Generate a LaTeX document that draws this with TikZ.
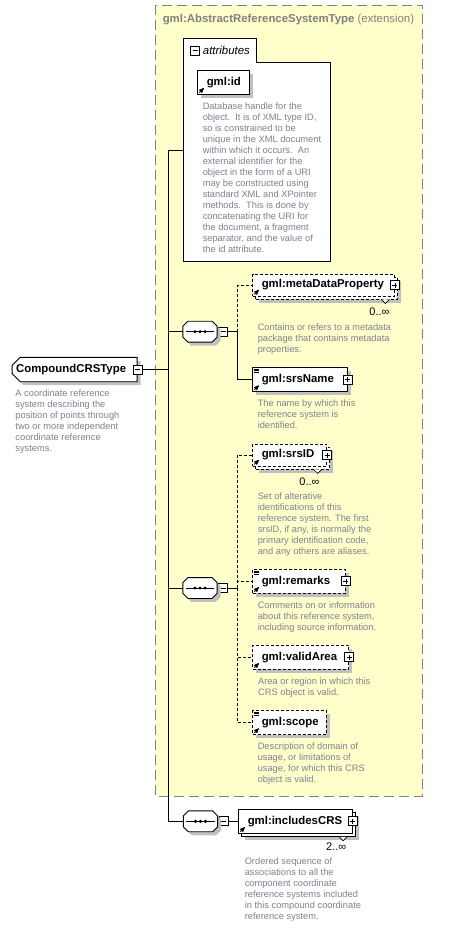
\documentclass[tikz,border=0pt]{standalone}
\usepackage{fontspec}
\setmainfont{Liberation Sans}
\usepackage{tikz}
\usetikzlibrary{arrows, positioning, shadows, shapes.misc}
\definecolor{extfill}{HTML}{FFFFCC}
\definecolor{extline}{HTML}{808080}
\definecolor{shadowgray}{HTML}{C0C0C0}
\definecolor{descgray}{HTML}{808090}
\newcommand{\labfont}{\fontsize{11.4}{13}\selectfont\bfseries}
\newcommand{\descfont}{\fontsize{9.3}{11}\selectfont}
\newcommand{\occfont}{\fontsize{11}{12}\selectfont}

\begin{document}
\begin{tikzpicture}[x=1pt, y=-1pt, line width=0.9pt]
  \tikzstyle{shadowed} = [drop shadow={shadow xshift=3.5pt,
    shadow yshift=-3.5pt, fill=shadowgray, opacity=1}]
  \tikzstyle{element} = [draw, fill=white, font=\labfont, anchor=west,
    inner xsep=9pt, inner ysep=0pt, minimum height=24pt, align=left]
  \tikzstyle{elem} = [element, shadowed]
  \tikzstyle{optional} = [dash pattern=on 3pt off 2pt]
  \tikzstyle{compositor} = [minimum width=33.4pt, minimum height=20pt,
    inner sep=0pt]
  \tikzstyle{signbox} = [draw, fill=white, minimum size=9pt, inner sep=0pt,
    line width=0.8pt]
  \tikzstyle{minusbox} = [signbox, path picture={
      \draw ([xshift=2pt]path picture bounding box.west) --
        ([xshift=-2pt]path picture bounding box.east);}]
  \tikzstyle{plusbox} = [signbox, path picture={
      \draw ([xshift=2pt]path picture bounding box.west) --
        ([xshift=-2pt]path picture bounding box.east);
      \draw ([yshift=2pt]path picture bounding box.south) --
        ([yshift=-2pt]path picture bounding box.north);}]
  \tikzstyle{desc} = [anchor=base west, inner sep=0pt, align=left,
    text=descgray, font=\descfont]
  \tikzstyle{occurs} = [anchor=base east, inner sep=0pt, font=\occfont]
  \tikzstyle{refarrow} = [->, >=stealth', line width=0.8pt]
  \tikzstyle{notch} = [fill=white, line width=0.7pt]

  \useasboundingbox (0,0) rectangle (465,928);

  % extension of gml:AbstractReferenceSystemType
  \draw[fill=extfill, draw=extline, dash pattern=on 10pt off 5pt]
    (155.3,5) rectangle (422.7,796);
  \node[anchor=base west, inner sep=0pt, text=extline] (exttitle)
    at (162.3,23) {\labfont gml:AbstractReferenceSystemType
    \mdseries(extension)};

  % attributes
  \draw[fill=white] (183.3,38) -- (256.7,38) -- (256.7,62) -- (330,62)
    -- (330,261.7) -- (183.3,261.7) -- cycle;
  \node[minusbox] (attr minus) at (195.3,50.8) {};
  \node[anchor=base west, inner sep=0pt, font=\labfont\mdseries\itshape]
    (attr title) at (202.5,54.8) {attributes};
  \coordinate (attrin) at (183.3,150.7);
  \node[elem, text width=33.4pt] (gid) at (197.3,82.2) {gml:id};
  \node[desc] (gid desc) at (202.3,252.7) {Database handle for the\\
    object.\ \ It is of XML type ID,\\so is constrained to be\\
    unique in the XML document\\within which it occurs.\ \ An\\
    external identifier for the\\object in the form of a URI\\
    may be constructed using\\standard XML and XPointer\\
    methods.\ \ This is done by\\concatenating the URI for\\
    the document, a fragment\\separator, and the value of\\
    the id attribute.};

  % root
  \node[draw, fill=white, shadowed, chamfered rectangle,
    chamfered rectangle corners={north west,south west},
    chamfered rectangle sep=4pt, minimum width=125pt, minimum height=24.4pt,
    inner sep=0pt, text width=117pt, align=left, font=\labfont, anchor=west]
    (root) at (11.7,369.5) {CompoundCRSType};
  \node[minusbox] (root minus) at (root.east) {};
  \node[desc] (root desc) at (15,451.3) {A coordinate reference\\
    system describing the\\position of points through\\
    two or more independent\\coordinate reference\\systems.};

  % first sequence
  \node[compositor] (seqa) at (200,331.7) {};
  \node[minusbox, right=1pt of seqa] (seqa minus) {};
  \coordinate (busa) at (237.3,331.7);
  \node[elem, optional, text width=123.7pt, minimum height=22pt]
    (mdp back) at (255.3,288) {\phantom{gml:metaDataProperty}};
  \node[element, optional, text width=123.7pt, minimum height=22pt]
    (mdp) at (252.3,285) {gml:metaDataProperty};
  \draw[notch] ([xshift=-16.5pt]mdp back.south east) -- ++(4,4) -- ++(4,-4);
  \node[occurs] (mdp occurs) at (390,315.5) {0..∞};
  \node[desc] (mdp desc) at (257.3,352.7) {Contains or refers to a metadata\\
    package that contains metadata\\properties.};
  \node[elem, text width=76.4pt] (srsname) at (252.3,379.5) {gml:srsName};
  \node[desc] (srsname desc) at (257.3,428.3) {The name by which this\\
    reference system is\\identified.};

  % second sequence
  \node[compositor] (seqb) at (200,588) {};
  \node[minusbox, right=1pt of seqb] (seqb minus) {};
  \coordinate (busb) at (237.3,588);
  \node[elem, optional, text width=56pt, minimum height=22pt]
    (srsid back) at (255.3,458) {\phantom{gml:srsID}};
  \node[element, optional, text width=56pt, minimum height=22pt]
    (srsid) at (252.3,455) {gml:srsID};
  \draw[notch] ([xshift=-16.5pt]srsid back.south east) -- ++(4,4) -- ++(4,-4);
  \node[occurs] (srsid occurs) at (320,485) {0..∞};
  \node[desc] (srsid desc) at (257.3,554.7) {Set of alterative\\
    identifications of this\\reference system. The first\\
    srsID, if any, is normally the\\primary identification code,\\
    and any others are aliases.};
  \node[elem, optional, text width=74.7pt] (remarks) at (252.3,581.3)
    {gml:remarks};
  \node[desc] (remarks desc) at (257.3,630.7) {Comments on or information\\
    about this reference system,\\including source information.};
  \node[elem, optional, text width=78pt] (validarea) at (252.3,657.3)
    {gml:validArea};
  \node[desc] (validarea desc) at (257.7,695.7) {Area or region in which this\\
    CRS object is valid.};
  \node[elem, optional, text width=55.4pt] (scope) at (252.3,722.5)
    {gml:scope};
  \node[desc] (scope desc) at (257.3,782.7) {Description of domain of\\
    usage, or limitations of\\usage, for which this CRS\\object is valid.};

  % third sequence
  \node[compositor] (seqc) at (200.5,821.3) {};
  \node[minusbox, right=1pt of seqc] (seqc minus) {};
  \node[elem, text width=95.4pt] (incl back) at (241.3,824.3)
    {\phantom{gml:includesCRS}};
  \node[element, text width=95.4pt] (incl) at (238.3,821.3)
    {gml:includesCRS};
  \draw[notch] ([xshift=-16.5pt]incl back.south east) -- ++(4,4) -- ++(4,-4);
  \node[occurs] (incl occurs) at (346.7,850.5) {2..∞};
  \node[desc] (incl desc) at (244.3,919.7) {Ordered sequence of\\
    associations to all the\\component coordinate\\
    reference systems included\\in this compound coordinate\\
    reference system.};

  % sequence compositors
  \foreach \n in {seqa, seqb, seqc} {
    \draw[fill=white, shadowed] ([xshift=5pt]\n.north west)
      -- ([xshift=-5pt]\n.north east) -- ([yshift=-5pt]\n.north east)
      -- ([yshift=5pt]\n.south east) -- ([xshift=-5pt]\n.south east)
      -- ([xshift=5pt]\n.south west) -- ([yshift=5pt]\n.south west)
      -- ([yshift=-5pt]\n.north west) -- cycle;
    \draw ([xshift=3pt]\n.west) -- ([xshift=-3pt]\n.east);
    \foreach \d in {-5,0,5}
      \fill ([xshift=\d pt]\n.center) circle (1.7pt);
  }

  % icons
  \foreach \n in {mdp, srsname, srsid, remarks, validarea, incl}
    \node[plusbox] (\n plus) at (\n.east) {};
  \foreach \n in {gid, mdp, srsname, srsid, remarks, validarea, scope, incl}
    \draw[refarrow] ([shift={(2,-2)}]\n.south west) -- ++(4.5,-4.5);
  \foreach \n in {srsname, remarks, scope}
    \foreach \k in {2,3.5,5}
      \draw[line width=0.6pt] ([shift={(2,\k)}]\n.north west) -- ++(5,0);

  % connectors
  \coordinate (spinetop) at (168.3,150.7);
  \draw (attrin) -- (spinetop) |- (seqc.west);
  \draw (root minus.east) -- (root minus.east -| spinetop);
  \draw (spinetop) |- (seqa.west);
  \draw (spinetop) |- (seqb.west);
  \draw (seqa minus.east) -- (busa);
  \draw[optional] (busa) |- (mdp.west);
  \draw (busa) |- (srsname.west);
  \draw (seqb minus.east) -- (busb);
  \foreach \n in {srsid, remarks, validarea, scope}
    \draw[optional] (busb) |- (\n.west);
  \draw (seqc minus.east) -- (incl.west);
\end{tikzpicture}
\end{document}
